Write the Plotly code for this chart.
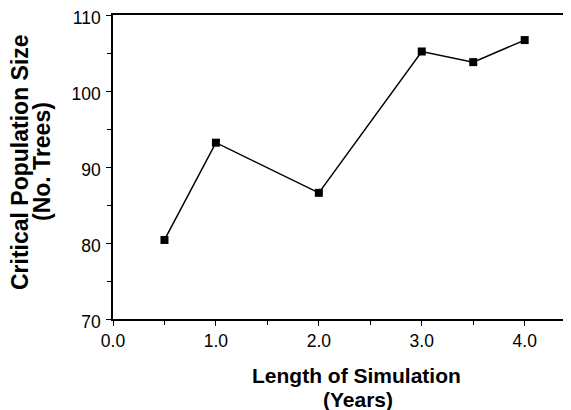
import plotly.graph_objects as go

years = [0.5, 1.0, 2.0, 3.0, 3.5, 4.0]
critical_size = [80.4, 93.2, 86.6, 105.2, 103.8, 106.7]
x_ticks = [0, 1, 2, 3, 4]
x_tick_labels = ["0.0", "1.0", "2.0", "3.0", "4.0"]
y_ticks = [70, 80, 90, 100, 110]
x_title_lines = ["Length of Simulation", "(Years)"]
y_title_lines = ["Critical Population Size", "(No. Trees)"]

fig = go.Figure()
fig.add_trace(go.Scatter(
    x=years, y=critical_size, mode="lines+markers",
    line=dict(color="black", width=1.5),
    marker=dict(symbol="square", size=8, color="black"),
    showlegend=False,
))

font_family = "Liberation Sans, Arial, sans-serif"
# page body has an 8px default margin, so the figure is sized/offset to compensate
fig.update_layout(
    width=563, height=402,
    margin=dict(l=105, r=0, t=7, b=91),
    plot_bgcolor="white", paper_bgcolor="white",
    font=dict(family=font_family, color="black"),
)
fig.update_xaxes(
    range=[0, 4.45], tickvals=x_ticks, ticktext=x_tick_labels,
    ticks="outside", ticklen=5, tickwidth=1, tickcolor="black",
    minor=dict(dtick=0.5, tick0=0, ticks="outside", ticklen=4, tickcolor="black"),
    showline=True, linecolor="black", linewidth=1.5, mirror=True,
    showgrid=False, zeroline=False, automargin=False,
    ticklabeloverflow="allow",
    tickfont=dict(size=17.5),
)
fig.update_yaxes(
    range=[70, 110], tickvals=y_ticks,
    ticks="outside", ticklen=5, tickwidth=1, tickcolor="black",
    minor=dict(dtick=5, tick0=70, ticks="outside", ticklen=4, tickcolor="black"),
    showline=True, linecolor="black", linewidth=1.5,
    showgrid=False, zeroline=False, automargin=False,
    ticklabelstandoff=2, ticklabelshift=3, ticklabeloverflow="allow",
    tickfont=dict(size=17.5),
)

# axis titles as annotations (two lines each, tight leading like the reference)
fig.add_annotation(text="<b>%s</b>" % x_title_lines[0], xref="paper", yref="paper",
                   x=0, y=0, xanchor="center", yanchor="middle", xshift=243, yshift=-56,
                   showarrow=False, font=dict(size=21))
fig.add_annotation(text="<b>%s</b>" % x_title_lines[1], xref="paper", yref="paper",
                   x=0, y=0, xanchor="center", yanchor="middle", xshift=245, yshift=-80,
                   showarrow=False, font=dict(size=21))
fig.add_annotation(text="<b>%s</b>" % y_title_lines[0], xref="paper", yref="paper",
                   x=0, y=0, xanchor="center", yanchor="middle", xshift=-93, yshift=157,
                   textangle=-90, showarrow=False, font=dict(size=23))
fig.add_annotation(text="<b>%s</b>" % y_title_lines[1], xref="paper", yref="paper",
                   x=0, y=0, xanchor="center", yanchor="middle", xshift=-71, yshift=157,
                   textangle=-90, showarrow=False, font=dict(size=23))
fig.write_html("out.html")
